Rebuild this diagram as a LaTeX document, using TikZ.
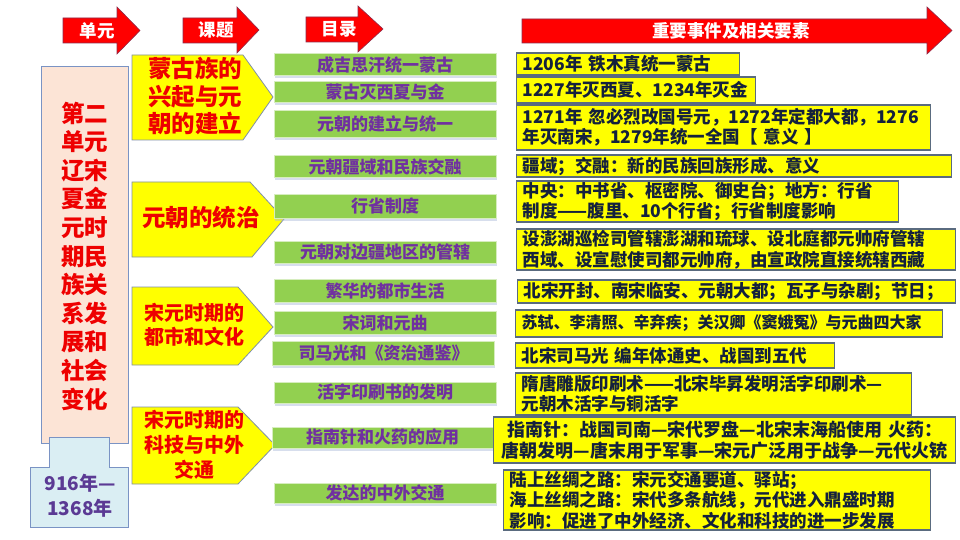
\documentclass[tikz,border=0pt]{standalone}
\usepackage{fontspec}
\setmainfont{Noto Sans CJK SC}
\usetikzlibrary{shadows}
\definecolor{hred}{HTML}{FF0000}
\definecolor{hredge}{HTML}{8E2B4A}
\definecolor{tred}{HTML}{EE0000}
\definecolor{yel}{HTML}{FFFF00}
\definecolor{catgreen}{HTML}{92D050}
\definecolor{catedge}{HTML}{D6EDBE}
\definecolor{catpurple}{HTML}{7030A0}
\definecolor{navy}{HTML}{14213D}
\definecolor{peach}{HTML}{FCE4D6}
\definecolor{pale}{HTML}{DAEEF3}
\definecolor{steel}{HTML}{7A93C4}
\definecolor{infoedge}{HTML}{5A6B7F}
\definecolor{topicedge}{HTML}{8090A8}
\definecolor{datepurple}{HTML}{5B3A94}
\definecolor{shadowblue}{HTML}{A8B8D8}
\begin{document}
\begin{tikzpicture}[x=1pt,y=-1pt,
  hdr/.style={fill=hred, draw=hredge, line width=0.6pt},
  hdrtext/.style={text=white, inner sep=0pt, font=\fontsize{17.5}{20}\selectfont\bfseries},
  unitbox/.style={fill=peach, draw=steel, line width=1pt},
  datebox/.style={fill=pale, draw=steel, line width=1pt},
  topic/.style={fill=yel, draw=topicedge, line width=0.8pt},
  topictext/.style={text=tred, inner sep=0pt, align=center},
  cat/.style={fill=catgreen, draw=catedge, line width=1pt, minimum width=222pt, inner sep=0pt,
    text=catpurple, font=\fontsize{17}{20}\selectfont\bfseries,
    drop shadow={shadow xshift=0.5pt, shadow yshift=-2.5pt, fill=shadowblue, opacity=0.45}},
  info/.style={fill=yel, draw=infoedge, line width=1.2pt, anchor=west, inner xsep=6pt, inner ysep=0pt,
    align=left, text=navy, font=\fontsize{17.5}{20.5}\selectfont\bfseries}
]
\useasboundingbox[fill=white] (0,0) rectangle (960,540);

% header arrows
\draw[hdr] (63,18)--(117,18)--(117,7)--(140,30.5)--(117,54)--(117,43)--(63,43)--cycle;
\node[hdrtext] (h1) at (97,30.5) {单元};
\draw[hdr] (183,18)--(237,18)--(237,7)--(259,30)--(237,53)--(237,43)--(183,43)--cycle;
\node[hdrtext] (h2) at (216,30) {课题};
\draw[hdr] (306,17)--(358,17)--(358,6)--(383,29)--(358,52)--(358,42)--(306,42)--cycle;
\node[hdrtext] (h3) at (339,29.5) {目录};
\draw[hdr] (522,19)--(927,19)--(927,7)--(952,30.5)--(927,54)--(927,43)--(522,43)--cycle;
\node[hdrtext] (h4) at (731,31) {重要事件及相关要素};

% unit column
\draw[unitbox] (41,67) rectangle (128,443);
\node[topictext, font=\fontsize{23.5}{28.6}\selectfont\bfseries] (unit) at (84.5,256)
  {第二\\单元\\辽宋\\夏金\\元时\\期民\\族关\\系发\\展和\\社会\\变化};
\draw[datebox] (49,437)--(109,437)--(109,467)--(128,467)--(128,527)--(30,527)--(30,467)--(49,467)--cycle;
\node[text=datepurple, inner sep=0pt, align=center, font=\fontsize{19}{25}\selectfont\bfseries] (date) at (80,496)
  {916年—\\1368年};

% topic pentagons
\draw[topic] (132,55)--(243,55)--(273,97)--(243,140)--(132,140)--cycle;
\node[topictext, font=\fontsize{23.5}{27.5}\selectfont\bfseries] (t1) at (195,96) {蒙古族的\\兴起与元\\朝的建立};
\draw[topic] (132,182)--(250,182)--(284,219)--(252,257)--(132,257)--cycle;
\node[topictext, font=\fontsize{23.5}{27}\selectfont\bfseries] (t2) at (201,218) {元朝的统治};
\draw[topic] (132,287)--(238,287)--(273,327)--(238,365)--(132,365)--cycle;
\node[topictext, font=\fontsize{20}{24}\selectfont\bfseries] (t3) at (194,325) {宋元时期的\\都市和文化};
\draw[topic] (132,407)--(238,407)--(275,445)--(238,484)--(132,484)--cycle;
\node[topictext, font=\fontsize{20}{25}\selectfont\bfseries] (t4) at (194,445) {宋元时期的\\科技与中外\\交通};

% category boxes
\node[cat, minimum height=22pt] (c1) at (385,65) {成吉思汗统一蒙古};
\node[cat, minimum height=21pt] (c2) at (385,92.5) {蒙古灭西夏与金};
\node[cat, minimum height=27pt] (c3) at (385,124.5) {元朝的建立与统一};
\node[cat, minimum height=22pt] (c4) at (385,167) {元朝疆域和民族交融};
\node[cat, minimum height=24pt] (c5) at (385,206) {行省制度};
\node[cat, minimum height=22pt] (c6) at (385,252) {元朝对边疆地区的管辖};
\node[cat, minimum height=23pt] (c7) at (385,290.5) {繁华的都市生活};
\node[cat, minimum height=23pt] (c8) at (385,322.5) {宋词和元曲};
\node[cat, minimum height=24pt] (c9) at (383.5,353) {司马光和《资治通鉴》};
\node[cat, minimum height=21pt] (c10) at (385,392.5) {活字印刷书的发明};
\node[cat, minimum height=21pt, minimum width=221pt] (c11) at (382.5,437.5) {指南针和火药的应用};
\node[cat, minimum height=20pt] (c12) at (385,493) {发达的中外交通};

% info boxes
\node[info, text width=211pt, minimum height=22pt] (i1) at (516,64) {1206年 铁木真统一蒙古};
\node[info, text width=227pt, minimum height=26pt] (i2) at (516,90) {1227年灭西夏、1234年灭金};
\node[info, text width=402pt, minimum height=45pt] (i3) at (516,127.5)
  {1271年 忽必烈改国号元，1272年定都大都，1276\\年灭南宋，1279年统一全国【 意义 】};
\node[info, text width=423pt, minimum height=22pt] (i4) at (516,166) {疆域；交融：新的民族回族形成、意义};
\node[info, text width=370pt, minimum height=41pt] (i5) at (516,201.5)
  {中央：中书省、枢密院、御史台；地方：行省\\制度——腹里、10个行省；行省制度影响};
\node[info, text width=427pt, minimum height=41pt] (i6) at (516,249.5)
  {设澎湖巡检司管辖澎湖和琉球、设北庭都元帅府管辖\\西域、设宣慰使司都元帅府，由宣政院直接统辖西藏};
\node[info, text width=426pt, minimum height=23pt] (i7) at (517,291.5) {北宋开封、南宋临安、元朝大都；瓦子与杂剧；节日；};
\node[info, text width=415pt, minimum height=27pt, font=\fontsize{16}{19}\selectfont\bfseries] (i8) at (515,323.5)
  {苏轼、李清照、辛弃疾；关汉卿《窦娥冤》与元曲四大家};
\node[info, text width=307pt, minimum height=25pt] (i9) at (515,355.5) {北宋司马光 编年体通史、战国到五代};
\node[info, text width=384pt, minimum height=42pt] (i10) at (515,394)
  {隋唐雕版印刷术——北宋毕昇发明活字印刷术—\\元朝木活字与铜活字};
\node[info, text width=450pt, minimum height=46pt, align=center, font=\fontsize{18}{21.5}\selectfont\bfseries] (i11) at (493,440)
  {指南针：战国司南—宋代罗盘—北宋末海船使用 火药：\\唐朝发明—唐末用于军事—宋元广泛用于战争—元代火铳};
\node[info, text width=415pt, minimum height=60pt] (i12) at (503,500)
  {陆上丝绸之路：宋元交通要道、驿站；\\海上丝绸之路：宋代多条航线，元代进入鼎盛时期\\影响：促进了中外经济、文化和科技的进一步发展};
\end{tikzpicture}
\end{document}
